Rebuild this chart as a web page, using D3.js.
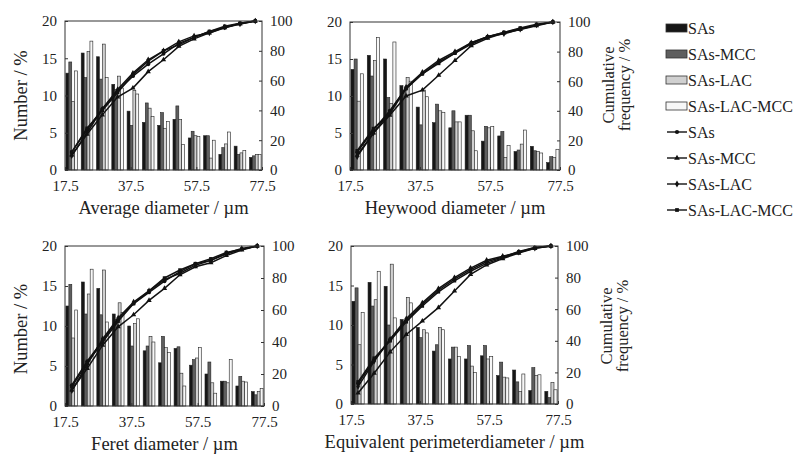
<!DOCTYPE html>
<html>
<head>
<meta charset="utf-8">
<script src="https://cdn.jsdelivr.net/npm/d3@7"></script>
<style>
  body { margin: 0; background: #fff; }
  svg text { font-family: "Liberation Serif", "Times New Roman", Times, serif; fill: #222; }
</style>
</head>
<body>
<svg id="chart" width="794" height="460"></svg>
<script>
// size classes (µm), one bar group per class
const bins = [17.5, 22.5, 27.5, 32.5, 37.5, 42.5, 47.5, 52.5, 57.5, 62.5, 67.5, 72.5, 77.5]
const xTicks = [17.5, 37.5, 57.5, 77.5]
const numTicks = [0, 5, 10, 15, 20]
const cumTicks = [0, 20, 40, 60, 80, 100]
const seriesNames = ["SAs", "SAs-MCC", "SAs-LAC", "SAs-LAC-MCC"]

// Average diameter, number %
const avgSAs     = [13.0, 15.7, 15.2, 11.5, 7.9, 6.4, 6.0, 6.8, 4.3, 4.6, 2.1, 3.2, 1.7]
const avgMCC     = [14.5, 12.4, 12.2, 10.8, 6.0, 9.0, 7.7, 8.6, 5.2, 4.6, 3.0, 2.1, 1.9]
const avgLAC     = [9.2, 15.9, 16.9, 12.6, 10.7, 8.3, 5.6, 6.8, 4.6, 1.6, 3.5, 2.3, 2.1]
const avgLACMCC  = [13.3, 17.3, 12.4, 11.0, 10.2, 7.2, 6.5, 3.4, 4.5, 4.0, 5.1, 2.6, 2.1]
// Average diameter, cumulative %
const avgCumSAs    = [12, 27, 41, 53, 63, 71, 78, 85, 89, 93, 95.5, 98.5, 100]
const avgCumMCC    = [10, 24, 37, 49, 55, 66, 74, 83, 88, 92, 95.5, 98, 100]
const avgCumLAC    = [9.5, 25, 41, 54, 65, 74, 80, 86, 90, 92, 96, 98, 100]
const avgCumLACMCC = [12, 28, 40, 52, 64, 73, 80, 84, 89, 93, 96.5, 98.5, 100]

// Heywood diameter
const heySAs     = [13.6, 15.5, 15.0, 11.4, 8.5, 6.4, 5.7, 7.4, 3.9, 4.6, 2.5, 3.2, 1.0]
const heyMCC     = [15.0, 12.7, 9.8, 10.8, 6.1, 8.9, 8.0, 7.4, 5.9, 5.2, 2.7, 2.6, 1.8]
const heyLAC     = [9.3, 14.8, 9.0, 12.5, 10.8, 8.0, 6.5, 5.3, 5.7, 1.7, 3.5, 2.5, 1.7]
const heyLACMCC  = [13.0, 17.9, 17.3, 12.0, 9.9, 7.8, 6.5, 2.6, 5.9, 3.3, 5.4, 2.3, 2.8]
const heyCumSAs    = [12, 27, 40, 55, 65, 73, 79, 86, 90, 93, 95.5, 98, 100]
const heyCumMCC    = [10, 25, 37, 50, 54, 64, 74, 84, 89, 92.5, 95, 97.5, 100]
const heyCumLAC    = [9, 25, 39, 56, 66, 74, 80, 86, 90, 92, 95, 98, 100]
const heyCumLACMCC = [13, 28, 38, 55, 65, 72, 79, 85, 90, 93, 96, 98.5, 100]

// Feret diameter
const ferSAs     = [12.5, 15.5, 14.7, 11.5, 10.0, 6.9, 5.4, 7.2, 5.1, 4.0, 3.1, 2.5, 1.8]
const ferMCC     = [15.2, 11.5, 11.4, 10.8, 7.5, 7.5, 8.7, 7.4, 5.8, 5.5, 3.1, 3.7, 1.4]
const ferLAC     = [8.5, 14.0, 17.0, 12.9, 10.3, 8.7, 7.3, 4.1, 6.0, 2.9, 2.9, 3.1, 1.8]
const ferLACMCC  = [12.0, 17.1, 10.5, 11.7, 10.9, 8.0, 6.7, 2.5, 7.3, 1.6, 5.8, 3.0, 2.2]
const ferCumSAs    = [13, 28, 41, 54, 64, 71, 78, 84, 89, 91, 95, 98, 100]
const ferCumMCC    = [10, 23.5, 38, 49.5, 57, 66, 73.5, 82, 87, 89.5, 94, 97.5, 100]
const ferCumLAC    = [9.5, 26, 42, 55, 65, 72, 79, 83, 88, 91, 95.5, 98.5, 100]
const ferCumLACMCC = [12, 27, 40, 53, 64, 72, 80, 85, 89, 92, 96, 98, 100]

// Equivalent perimeter diameter
const perSAs     = [13.0, 15.4, 14.9, 10.7, 9.7, 6.7, 5.7, 5.7, 6.1, 3.6, 4.3, 1.7, 1.6]
const perMCC     = [14.7, 12.4, 10.0, 10.2, 8.4, 7.5, 7.2, 7.4, 7.4, 5.3, 2.8, 4.6, 0.8]
const perLAC     = [7.5, 13.2, 17.7, 13.5, 9.4, 9.7, 7.2, 4.8, 5.7, 3.4, 1.6, 3.6, 2.7]
const perLACMCC  = [11.6, 16.8, 10.9, 12.8, 9.0, 9.4, 6.0, 4.0, 6.0, 3.3, 3.8, 3.7, 1.8]
const perCumSAs    = [13, 28, 41, 53, 63, 72, 79, 85, 90, 93, 96.5, 99, 100]
const perCumMCC    = [7, 19.5, 33, 44, 52.5, 61, 71.5, 82, 88, 92, 95.5, 98.5, 100]
const perCumLAC    = [11, 27, 41, 54, 64, 73, 80, 86, 91, 93.5, 96, 98.5, 100]
const perCumLACMCC = [14, 29, 40, 52, 62, 71, 78, 84, 89, 92.5, 96, 99, 100]

const barFill = ["#161616", "#5e5e5e", "#d0d0d0", "#f7f7f7"]
const markers = [d3.symbolCircle, d3.symbolTriangle, d3.symbolDiamond, d3.symbolSquare]

const panels = [
    { title: "Average diameter / µm", box: [65, 21, 197, 149], left: true, right: false, labelDy: 0,
      bars: [avgSAs, avgMCC, avgLAC, avgLACMCC], cum: [avgCumSAs, avgCumMCC, avgCumLAC, avgCumLACMCC] },
    { title: "Heywood diameter / µm", box: [350, 22, 210, 148], left: false, right: true, labelDy: -11,
      bars: [heySAs, heyMCC, heyLAC, heyLACMCC], cum: [heyCumSAs, heyCumMCC, heyCumLAC, heyCumLACMCC] },
    { title: "Feret diameter / µm", box: [65, 246, 199, 160], left: true, right: false, labelDy: 3,
      bars: [ferSAs, ferMCC, ferLAC, ferLACMCC], cum: [ferCumSAs, ferCumMCC, ferCumLAC, ferCumLACMCC] },
    { title: "Equivalent perimeterdiameter / µm", box: [351, 246, 207, 158], left: false, right: true, labelDy: 1,
      bars: [perSAs, perMCC, perLAC, perLACMCC], cum: [perCumSAs, perCumMCC, perCumLAC, perCumLACMCC] }
]

const svg = d3.select("#chart")

panels.forEach(p => {
    let [x0, y0, w, h] = p.box
    let g = svg.append("g").attr("transform", `translate(${x0},${y0})`)

    let xBand = d3.scaleBand().domain(bins).range([0, w]).paddingInner(0.24).paddingOuter(0.06)
    let xSub = d3.scaleBand().domain(seriesNames).range([0, xBand.bandwidth()]).padding(0)
    let xLin = d3.scaleLinear().domain([17.5, 77.5]).range([0, w])
    let yNum = d3.scaleLinear().domain([0, 20]).range([h, 0])
    let yCum = d3.scaleLinear().domain([0, 100]).range([h, 0])

    // bars
    p.bars.forEach((vals, si) => {
        g.selectAll(null)
            .data(vals)
            .enter().append("rect")
            .attr("x", (d, i) => xBand(bins[i]) + xSub(seriesNames[si]))
            .attr("width", xSub.bandwidth())
            .attr("y", d => yNum(d))
            .attr("height", d => h - yNum(d))
            .attr("fill", barFill[si])
            .attr("stroke", "#222")
            .attr("stroke-width", 0.6)
    })

    // cumulative lines
    let line = d3.line()
        .x((d, i) => xBand(bins[i]) + xBand.bandwidth() / 2)
        .y(d => yCum(d))
    p.cum.forEach((vals, si) => {
        g.append("path")
            .attr("d", line(vals))
            .attr("fill", "none")
            .attr("stroke", "#111")
            .attr("stroke-width", 1.5)
        g.selectAll(null)
            .data(vals)
            .enter().append("path")
            .attr("d", d3.symbol().type(markers[si]).size(12))
            .attr("transform", (d, i) => `translate(${xBand(bins[i]) + xBand.bandwidth() / 2},${yCum(d)})`)
            .attr("fill", "#111")
    })

    // frame
    g.append("rect").attr("width", w).attr("height", h)
        .attr("fill", "none").attr("stroke", "#333").attr("stroke-width", 1)

    let axL = g.append("g").call(d3.axisLeft(yNum).tickValues(numTicks).tickSize(-3).tickPadding(8))
    let axR = g.append("g").attr("transform", `translate(${w},0)`)
        .call(d3.axisRight(yCum).tickValues(cumTicks).tickSize(-3).tickPadding(8))
    let axB = g.append("g").attr("transform", `translate(0,${h})`)
        .call(d3.axisBottom(xLin).tickValues(xTicks).tickFormat(d3.format(".1f")).tickSize(-3).tickPadding(10))
    ;[axL, axR, axB].forEach(a => {
        a.attr("font-family", null).attr("font-size", null)
        a.select(".domain").remove()
        a.selectAll("line").attr("stroke", "#333")
        a.selectAll("text").style("font-size", "15px").attr("fill", "#222")
    })

    g.append("text")
        .attr("x", w / 2).attr("y", h + 44)
        .attr("text-anchor", "middle")
        .style("font-size", "18.5px")
        .text(p.title)

    if (p.left) {
        g.append("text")
            .attr("transform", `translate(${-38},${h / 2 + p.labelDy}) rotate(-90)`)
            .attr("text-anchor", "middle")
            .style("font-size", "18.5px")
            .text("Number / %")
    }
    if (p.right) {
        let t = g.append("text")
            .attr("transform", `translate(${w + 54},${h / 2 + p.labelDy}) rotate(-90)`)
            .attr("text-anchor", "middle")
            .style("font-size", "16.5px")
        t.append("tspan").attr("x", 0).attr("dy", 0).text("Cumulative")
        t.append("tspan").attr("x", 0).attr("dy", 16).text("frequency / %")
    }
})

// legend
let legend = svg.append("g").attr("transform", "translate(666,28)")
seriesNames.forEach((name, i) => {
    let row = legend.append("g").attr("transform", `translate(0,${i * 26})`)
    row.append("rect").attr("x", 0).attr("y", -4).attr("width", 21).attr("height", 8)
        .attr("fill", barFill[i]).attr("stroke", "#333").attr("stroke-width", 0.8)
    row.append("text").attr("x", 22).attr("y", 5.5)
        .style("font-size", "16px").text(name)
})
seriesNames.forEach((name, i) => {
    let row = legend.append("g").attr("transform", `translate(0,${(i + 4) * 26})`)
    row.append("line").attr("x1", 1).attr("x2", 21).attr("stroke", "#111").attr("stroke-width", 1.4)
    row.append("path").attr("d", d3.symbol().type(markers[i]).size(14))
        .attr("transform", "translate(11,0)").attr("fill", "#111")
    row.append("text").attr("x", 22).attr("y", 5.5)
        .style("font-size", "16px").text(name)
})
</script>
</body>
</html>
